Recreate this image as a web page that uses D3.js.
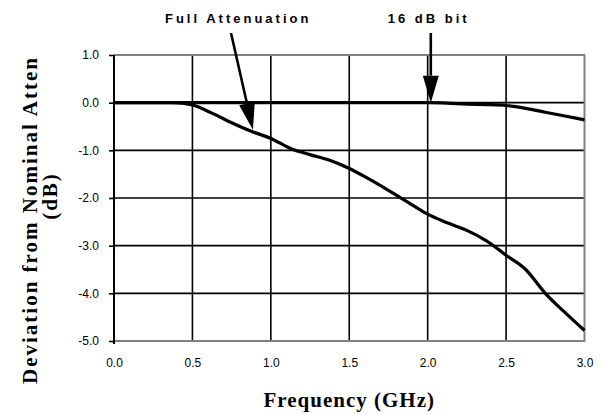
<!DOCTYPE html>
<html>
<head>
<meta charset="utf-8">
<script src="https://cdn.jsdelivr.net/npm/d3@7"></script>
<style>
  body { margin: 0; background: #fff; }
  svg { display: block; }
</style>
</head>
<body>
<div id="chart"></div>
<script>
// frequency in GHz, deviation in dB
const freq = [0, 0.125, 0.25, 0.375, 0.5, 0.625, 0.75, 0.875, 1.0, 1.125, 1.25, 1.375, 1.5,
  1.625, 1.75, 1.875, 2.0, 2.125, 2.25, 2.375, 2.5, 2.625, 2.75, 2.875, 3.0];
const fullAtten = [0, 0, 0, 0, -0.05, -0.22, -0.42, -0.6, -0.75, -0.96, -1.09, -1.21, -1.38,
  -1.6, -1.84, -2.09, -2.34, -2.52, -2.68, -2.9, -3.2, -3.5, -4.0, -4.4, -4.78];
const bit16 = [0, 0, 0, 0, 0, 0, 0, 0, 0, 0, 0, 0, 0,
  0, 0, 0, 0, -0.01, -0.03, -0.04, -0.06, -0.12, -0.2, -0.28, -0.36];

const xTicks = [0, 0.5, 1.0, 1.5, 2.0, 2.5, 3.0];
const yTicks = [1, 0, -1, -2, -3, -4, -5];

// annotations: label, arrow tail and tip in data units
const notes = [
  { label: 'Full Attenuation', lx: 0.325, tail: [0.746, 1.46], tip: [0.886, -0.57] },
  { label: '16 dB bit', lx: 1.745, tail: [2.02, 1.46], tip: [2.02, 0.0] }
];

const svgWidth = 606, svgHeight = 414;
const margin = { top: 55, right: 21.5, bottom: 73, left: 114 };
const width = svgWidth - margin.left - margin.right;
const height = svgHeight - margin.top - margin.bottom;

// plain hyphen instead of unicode minus, like the original
const fmt = d => d.toFixed(1);

const svg = d3.select('#chart').append('svg')
  .attr('width', svgWidth)
  .attr('height', svgHeight);

svg.append('rect').attr('width', svgWidth).attr('height', svgHeight).attr('fill', '#fff');

const g = svg.append('g')
  .attr('transform', `translate(${margin.left},${margin.top})`);

const x = d3.scaleLinear().domain([0, 3]).range([0, width]);
const y = d3.scaleLinear().domain([-5, 1]).range([height, 0]);

// grid
g.append('g')
  .selectAll('line')
  .data(xTicks.filter(d => d > 0 && d < 3))
  .join('line')
  .attr('x1', d => x(d)).attr('x2', d => x(d))
  .attr('y1', 0).attr('y2', height)
  .attr('stroke', '#000').attr('stroke-width', 1.6);

g.append('g')
  .selectAll('line')
  .data(yTicks.filter(d => d > -5 && d < 1))
  .join('line')
  .attr('x1', 0).attr('x2', width)
  .attr('y1', d => y(d)).attr('y2', d => y(d))
  .attr('stroke', '#000').attr('stroke-width', 1.6);

// gray frame on top, right, bottom
g.append('path')
  .attr('d', `M0,${y(1)}H${x(3)}V${y(-5)}H0`)
  .attr('fill', 'none')
  .attr('stroke', '#808080')
  .attr('stroke-width', 2);

// y axis
const yAxis = g.append('g')
  .call(d3.axisLeft(y).tickValues(yTicks).tickSize(5).tickFormat(fmt));
yAxis.select('.domain').attr('stroke', '#000').attr('stroke-width', 2)
  .attr('d', `M0,${y(1)}V${y(-5) + 3}`);
yAxis.selectAll('.tick line').attr('stroke', '#000').attr('stroke-width', 1.6);
yAxis.selectAll('.tick text')
  .attr('x', -15)
  .attr('font-family', 'Arial, "Liberation Sans", sans-serif')
  .attr('font-size', 12)
  .attr('fill', '#000');

// x axis labels
const xAxis = g.append('g')
  .attr('transform', `translate(0,${height})`)
  .call(d3.axisBottom(x).tickValues(xTicks).tickSize(0).tickFormat(fmt));
xAxis.select('.domain').remove();
xAxis.selectAll('.tick text')
  .attr('y', 17)
  .attr('font-family', 'Arial, "Liberation Sans", sans-serif')
  .attr('font-size', 12)
  .attr('fill', '#000');

// curves
const line = d3.line()
  .x((d, i) => x(freq[i]))
  .y(d => y(d))
  .curve(d3.curveMonotoneX);

[fullAtten, bit16].forEach(s => {
  g.append('path')
    .datum(s)
    .attr('fill', 'none')
    .attr('stroke', '#000')
    .attr('stroke-width', 3.2)
    .attr('stroke-linejoin', 'round')
    .attr('d', line);
});

// annotation arrows
notes.forEach(n => {
  const x0 = x(n.tail[0]), y0 = y(n.tail[1]);
  const x1 = x(n.tip[0]), y1 = y(n.tip[1]);
  const ang = Math.atan2(y1 - y0, x1 - x0);
  const headLen = 27, headW = 8;
  const bx = x1 - headLen * Math.cos(ang), by = y1 - headLen * Math.sin(ang);
  g.append('line')
    .attr('x1', x0).attr('y1', y0).attr('x2', bx).attr('y2', by)
    .attr('stroke', '#000').attr('stroke-width', 2.6);
  const px = -Math.sin(ang) * headW, py = Math.cos(ang) * headW;
  g.append('path')
    .attr('d', `M${x1},${y1}L${bx + px},${by + py}L${bx - px},${by - py}Z`)
    .attr('fill', '#000');
  g.append('text')
    .attr('x', x(n.lx))
    .attr('y', -32)
    .attr('font-family', 'Arial, "Liberation Sans", sans-serif')
    .attr('font-weight', 'bold')
    .attr('font-size', 13)
    .attr('letter-spacing', 3)
    .attr('fill', '#000')
    .text(n.label);
});

// axis titles
svg.append('text')
  .attr('x', margin.left + width / 2)
  .attr('y', 407)
  .attr('text-anchor', 'middle')
  .attr('font-family', '"Times New Roman", "Liberation Serif", serif')
  .attr('font-weight', 'bold')
  .attr('font-size', 21)
  .attr('letter-spacing', 1)
  .attr('fill', '#000')
  .text('Frequency (GHz)');

svg.append('text')
  .attr('transform', 'translate(37,220) rotate(-90)')
  .attr('text-anchor', 'middle')
  .attr('font-family', '"Times New Roman", "Liberation Serif", serif')
  .attr('font-weight', 'bold')
  .attr('font-size', 21)
  .attr('letter-spacing', 2)
  .attr('fill', '#000')
  .text('Deviation from Nominal Atten');

svg.append('text')
  .attr('transform', 'translate(57,196) rotate(-90)')
  .attr('text-anchor', 'middle')
  .attr('font-family', '"Times New Roman", "Liberation Serif", serif')
  .attr('font-weight', 'bold')
  .attr('font-size', 21)
  .attr('letter-spacing', 2)
  .attr('fill', '#000')
  .text('(dB)');
</script>
</body>
</html>
